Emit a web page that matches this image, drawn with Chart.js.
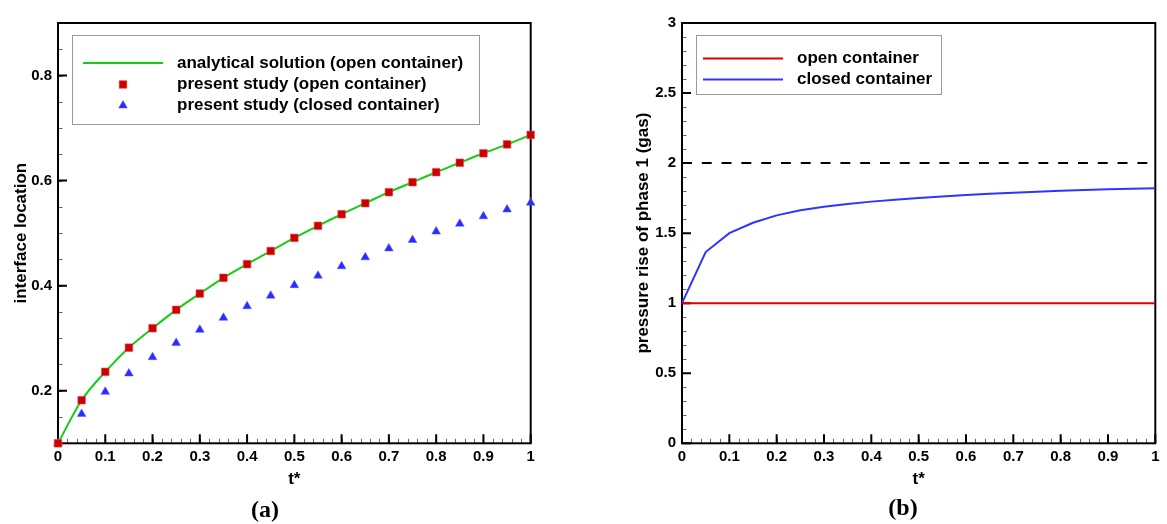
<!DOCTYPE html>
<html>
<head>
<meta charset="utf-8">
<script src="https://cdn.jsdelivr.net/npm/chart.js@4.4.1/dist/chart.umd.min.js"></script>
<style>
  body { margin: 0; background: #fff; }
  #wrap { position: relative; width: 1167px; height: 524px; }
  canvas { position: absolute; top: 0; }
  #chartA { left: 0; }
  #chartB { left: 580px; }
  .tag { position: absolute; font: bold 24px "Liberation Serif", serif; transform: translate(-50%, -50%); }
</style>
</head>
<body>
<div id="wrap">
  <canvas id="chartA" width="580" height="524"></canvas>
  <canvas id="chartB" width="587" height="524"></canvas>
  <div class="tag" style="left:265px;top:509px">(a)</div>
  <div class="tag" style="left:903px;top:507px">(b)</div>
</div>
<script>
const tStar = [0, 0.05, 0.1, 0.15, 0.2, 0.25, 0.3, 0.35, 0.4, 0.45, 0.5,
  0.55, 0.6, 0.65, 0.7, 0.75, 0.8, 0.85, 0.9, 0.95, 1];

// interface location
const analyticalOpen = [0.1, 0.182, 0.236, 0.282, 0.319, 0.354, 0.385, 0.415, 0.441, 0.466, 0.491,
  0.514, 0.536, 0.557, 0.578, 0.597, 0.616, 0.634, 0.652, 0.669, 0.687];
const studyOpen = [0.1, 0.182, 0.236, 0.282, 0.319, 0.354, 0.385, 0.415, 0.441, 0.466, 0.491,
  0.514, 0.536, 0.557, 0.578, 0.597, 0.616, 0.634, 0.652, 0.669, 0.687];
const studyClosed = [0.1, 0.156, 0.198, 0.233, 0.264, 0.291, 0.316, 0.339, 0.361, 0.381, 0.401,
  0.419, 0.437, 0.454, 0.471, 0.487, 0.503, 0.518, 0.532, 0.545, 0.558];

// pressure rise of phase 1
const pressureOpen = [1, 1, 1, 1, 1, 1, 1, 1, 1, 1, 1, 1, 1, 1, 1, 1, 1, 1, 1, 1, 1];
const pressureClosed = [1, 1.365, 1.5, 1.574, 1.627, 1.663, 1.688, 1.708, 1.725, 1.739, 1.751,
  1.762, 1.772, 1.781, 1.789, 1.796, 1.802, 1.808, 1.813, 1.817, 1.821];
const pressureLimit = [2, 2];
const limitT = [0, 1];

const xTicks = [0, 0.1, 0.2, 0.3, 0.4, 0.5, 0.6, 0.7, 0.8, 0.9, 1];
const yTicksA = [0.2, 0.4, 0.6, 0.8];
const yTicksB = [0, 0.5, 1, 1.5, 2, 2.5, 3];

const pts = (xs, ys) => xs.map((x, i) => ({ x: x, y: ys[i] }));

const FAMILY = '"Liberation Sans", Arial, sans-serif';
const tickFont = { family: FAMILY, size: 15, weight: 'bold' };
const titleFont = { family: FAMILY, size: 17, weight: 'bold' };

// boxed legend drawn inside the plot area
const insideLegend = {
  id: 'insideLegend',
  afterDraw(chart, args, o) {
    const ctx = chart.ctx;
    ctx.save();
    ctx.fillStyle = '#fff';
    ctx.fillRect(o.left, o.top, o.width, o.height);
    ctx.strokeStyle = '#9a9a9a';
    ctx.lineWidth = 1;
    ctx.strokeRect(o.left + 0.5, o.top + 0.5, o.width, o.height);
    ctx.font = 'bold 17px ' + FAMILY;
    ctx.textBaseline = 'middle';
    o.items.forEach((idx, row) => {
      const ds = chart.data.datasets[idx];
      const y = o.rowY[row];
      if (ds.showLine === false) {
        ctx.fillStyle = ds.backgroundColor;
        ctx.strokeStyle = ds.borderColor;
        ctx.lineWidth = ds.borderWidth;
        Chart.helpers.drawPoint(ctx, {
          pointStyle: ds.pointStyle, radius: ds.pointRadius,
          borderWidth: ds.borderWidth, rotation: 0
        }, (o.sampleX[0] + o.sampleX[1]) / 2, y);
      } else {
        ctx.strokeStyle = ds.borderColor;
        ctx.lineWidth = ds.borderWidth;
        ctx.beginPath();
        ctx.moveTo(o.sampleX[0], y);
        ctx.lineTo(o.sampleX[1], y);
        ctx.stroke();
      }
      ctx.fillStyle = '#000';
      ctx.fillText(ds.label, o.textX, y);
    });
    ctx.restore();
  }
};

// closed frame with inward major and minor ticks
const frameTicks = {
  id: 'frameTicks',
  beforeDatasetsDraw(chart, args, o) {
    const { ctx, chartArea: a, scales: { x, y } } = chart;
    ctx.save();
    ctx.strokeStyle = '#666';
    ctx.lineWidth = 1;
    ctx.beginPath();
    for (let i = 1; i < Math.round((x.max - x.min) / o.xMinor); i++) {
      const px = Math.round(x.getPixelForValue(x.min + i * o.xMinor)) + 0.5;
      ctx.moveTo(px, a.bottom);
      ctx.lineTo(px, a.bottom - 4.5);
    }
    for (let i = 1; i < Math.round((y.max - y.min) / o.yMinor); i++) {
      const py = Math.round(y.getPixelForValue(y.min + i * o.yMinor)) + 0.5;
      ctx.moveTo(a.left, py);
      ctx.lineTo(a.left + 4.5, py);
    }
    ctx.stroke();
    ctx.strokeStyle = '#000';
    ctx.lineWidth = 2;
    ctx.beginPath();
    xTicks.forEach(v => {
      const px = x.getPixelForValue(v);
      ctx.moveTo(px, a.bottom);
      ctx.lineTo(px, a.bottom - 9);
    });
    o.yMajor.forEach(v => {
      const py = y.getPixelForValue(v);
      ctx.moveTo(a.left, py);
      ctx.lineTo(a.left + 9, py);
    });
    ctx.stroke();
    ctx.strokeRect(a.left, a.top, a.width, a.height);
    ctx.restore();
  }
};

function axes(yMin, yMax, yTicks, yWidth, yTitle, yTitlePad) {
  return {
    x: {
      type: 'linear', min: 0, max: 1,
      afterFit: s => { s.height = 80.7; },
      afterBuildTicks: s => { s.ticks = xTicks.map(v => ({ value: v })); },
      grid: { display: false, drawTicks: false }, border: { display: false },
      ticks: { font: tickFont, color: '#000', padding: 5, maxRotation: 0, autoSkip: false,
        callback: v => String(v) },
      title: { display: true, text: 't*', font: titleFont, color: '#000', padding: { top: 0, bottom: 34 } }
    },
    y: {
      type: 'linear', min: yMin, max: yMax,
      afterFit: s => { s.width = yWidth; },
      afterBuildTicks: s => { s.ticks = yTicks.map(v => ({ value: v })); },
      grid: { display: false, drawTicks: false }, border: { display: false },
      ticks: { font: tickFont, color: '#000', padding: 6, autoSkip: false,
        callback: v => String(v) },
      title: { display: true, text: yTitle, font: titleFont, color: '#000', padding: { top: yTitlePad, bottom: 0 } }
    }
  };
}

new Chart(document.getElementById('chartA'), {
  type: 'line',
  data: {
    datasets: [
      {
        label: 'analytical solution (open container)',
        data: pts(tStar, analyticalOpen),
        borderColor: '#16cc16', backgroundColor: '#16cc16', borderWidth: 2,
        pointRadius: 0, cubicInterpolationMode: 'monotone', order: 2
      },
      {
        label: 'present study (open container)',
        data: pts(tStar, studyOpen),
        showLine: false, pointStyle: 'rect', pointRadius: 5.4, borderWidth: 0.6,
        backgroundColor: '#cc0000', borderColor: '#e05050', order: 0, clip: false
      },
      {
        label: 'present study (closed container)',
        data: pts(tStar, studyClosed),
        showLine: false, pointStyle: 'triangle', pointRadius: 5, borderWidth: 0.5,
        backgroundColor: '#2b2bff', borderColor: '#5050ff', order: 1, clip: false
      }
    ]
  },
  options: {
    responsive: false, animation: false, devicePixelRatio: 1,
    layout: { padding: { left: 0, top: 23, right: 49.3, bottom: 0 } },
    scales: axes(0.1, 0.9, yTicksA, 58, 'interface location', 11),
    plugins: {
      legend: { display: false }, tooltip: { enabled: false },
      frameTicks: { xMinor: 0.02, yMinor: 0.05, yMajor: yTicksA },
      insideLegend: {
        left: 72, top: 35, width: 407, height: 89,
        rowY: [63, 84.5, 105.5], sampleX: [83, 163], textX: 177, items: [0, 1, 2]
      }
    }
  },
  plugins: [frameTicks, insideLegend]
});

new Chart(document.getElementById('chartB'), {
  type: 'line',
  data: {
    datasets: [
      {
        label: 'open container',
        data: pts(tStar, pressureOpen),
        borderColor: '#dd0000', backgroundColor: '#dd0000', borderWidth: 2, pointRadius: 0
      },
      {
        label: 'closed container',
        data: pts(tStar, pressureClosed),
        borderColor: '#3333ff', backgroundColor: '#3333ff', borderWidth: 2, pointRadius: 0
      },
      {
        label: 'limit',
        data: pts(limitT, pressureLimit),
        borderColor: '#000', borderWidth: 2, borderDash: [9.9, 9.9], pointRadius: 0
      }
    ]
  },
  options: {
    responsive: false, animation: false, devicePixelRatio: 1,
    layout: { padding: { left: 0, top: 23, right: 11.7, bottom: 0 } },
    scales: axes(0, 3, yTicksB, 102, 'pressure rise of phase 1 (gas)', 52.8),
    plugins: {
      legend: { display: false }, tooltip: { enabled: false },
      frameTicks: { xMinor: 0.02, yMinor: 0.1, yMajor: yTicksB },
      insideLegend: {
        left: 116, top: 35, width: 245, height: 59,
        rowY: [58.5, 79.5], sampleX: [123, 203], textX: 217, items: [0, 1]
      }
    }
  },
  plugins: [frameTicks, insideLegend]
});
</script>
</body>
</html>
